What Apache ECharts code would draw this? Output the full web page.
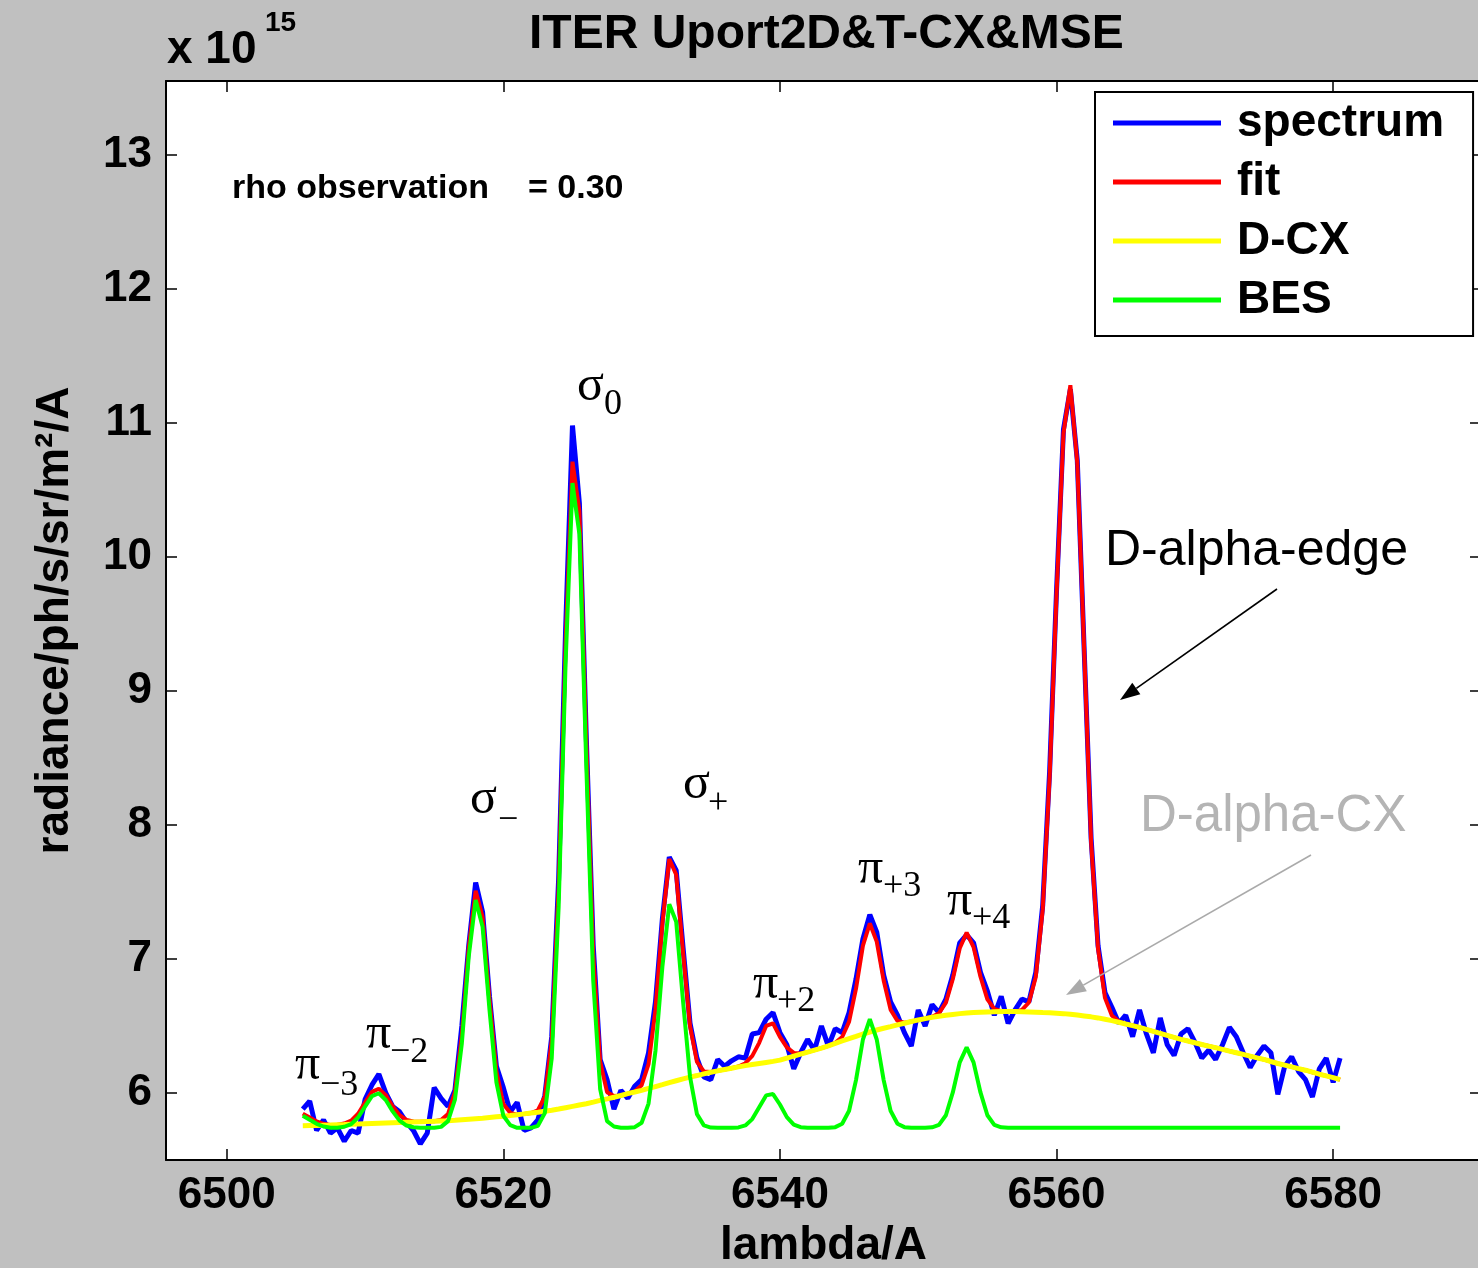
<!DOCTYPE html>
<html>
<head>
<meta charset="utf-8">
<script src="https://cdn.jsdelivr.net/npm/echarts@6/dist/echarts.min.js"></script>
<style>
html,body{margin:0;padding:0;background:#c0c0c0;}
#chart{width:1478px;height:1268px;}
</style>
</head>
<body>
<div id="chart"></div>
<script>
// wavelength grid (Å)
const lambda = [
6505.5,6506,6506.5,6507,6507.5,6508,6508.5,6509,6509.5,6510,
6510.5,6511,6511.5,6512,6512.5,6513,6513.5,6514,6514.5,6515,
6515.5,6516,6516.5,6517,6517.5,6518,6518.5,6519,6519.5,6520,
6520.5,6521,6521.5,6522,6522.5,6523,6523.5,6524,6524.5,6525,
6525.5,6526,6526.5,6527,6527.5,6528,6528.5,6529,6529.5,6530,
6530.5,6531,6531.5,6532,6532.5,6533,6533.5,6534,6534.5,6535,
6535.5,6536,6536.5,6537,6537.5,6538,6538.5,6539,6539.5,6540,
6540.5,6541,6541.5,6542,6542.5,6543,6543.5,6544,6544.5,6545,
6545.5,6546,6546.5,6547,6547.5,6548,6548.5,6549,6549.5,6550,
6550.5,6551,6551.5,6552,6552.5,6553,6553.5,6554,6554.5,6555,
6555.5,6556,6556.5,6557,6557.5,6558,6558.5,6559,6559.5,6560,
6560.5,6561,6561.5,6562,6562.5,6563,6563.5,6564,6564.5,6565,
6565.5,6566,6566.5,6567,6567.5,6568,6568.5,6569,6569.5,6570,
6570.5,6571,6571.5,6572,6572.5,6573,6573.5,6574,6574.5,6575,
6575.5,6576,6576.5,6577,6577.5,6578,6578.5,6579,6579.5,6580,
6580.5
];
// measured spectrum (x 1e15)
const spectrum = [
5.88,5.94,5.72,5.80,5.70,5.74,5.64,5.72,5.70,5.95,
6.06,6.14,6.00,5.90,5.86,5.78,5.72,5.62,5.70,6.04,
5.96,5.90,6.02,6.50,7.10,7.57,7.35,6.72,6.20,6.04,
5.86,5.93,5.72,5.74,5.80,5.98,6.42,7.60,9.45,10.98,
10.40,8.65,7.10,6.25,6.10,5.88,6.02,5.96,6.05,6.10,
6.30,6.68,7.30,7.76,7.66,7.08,6.52,6.26,6.12,6.10,
6.25,6.20,6.24,6.27,6.26,6.44,6.45,6.55,6.60,6.45,
6.36,6.18,6.30,6.40,6.32,6.50,6.35,6.48,6.45,6.60,
6.85,7.15,7.33,7.20,6.88,6.68,6.58,6.45,6.35,6.62,
6.50,6.66,6.60,6.70,6.88,7.12,7.18,7.12,6.90,6.76,
6.58,6.72,6.52,6.62,6.70,6.68,6.90,7.40,8.40,9.75,
10.95,11.25,10.72,9.30,7.90,7.10,6.75,6.64,6.52,6.58,
6.42,6.62,6.44,6.30,6.56,6.36,6.28,6.44,6.48,6.38,
6.26,6.32,6.25,6.36,6.49,6.42,6.30,6.19,6.28,6.35,
6.30,5.99,6.20,6.27,6.16,6.10,5.97,6.18,6.26,6.08,
6.26
];
// total fit
const fit = [
5.846,5.817,5.788,5.770,5.761,5.763,5.772,5.794,5.845,5.928,
6.008,6.032,5.984,5.901,5.834,5.799,5.788,5.785,5.787,5.789,
5.798,5.843,6.006,6.430,7.084,7.508,7.312,6.697,6.162,5.917,
5.852,5.838,5.844,5.850,5.871,5.973,6.391,7.530,9.350,10.710,
10.340,8.620,7.032,6.235,6.006,5.978,5.981,5.995,6.012,6.058,
6.215,6.621,7.264,7.746,7.628,7.043,6.499,6.232,6.161,6.157,
6.165,6.175,6.185,6.198,6.222,6.277,6.374,6.500,6.520,6.419,
6.340,6.299,6.295,6.305,6.320,6.335,6.352,6.375,6.418,6.532,
6.778,7.099,7.265,7.129,6.839,6.622,6.538,6.525,6.533,6.545,
6.555,6.569,6.595,6.674,6.850,7.080,7.196,7.088,6.867,6.699,
6.628,6.611,6.607,6.607,6.620,6.675,6.866,7.371,8.358,9.724,
10.921,11.280,10.700,9.300,7.872,7.077,6.710,6.578,6.535,6.515,
6.503,6.490,6.475,6.460,6.445,6.430,6.415,6.400,6.388,6.375,
6.362,6.350,6.338,6.325,6.312,6.300,6.288,6.275,6.262,6.250,
6.235,6.220,6.208,6.195,6.182,6.170,6.155,6.140,6.128,6.115,
6.100
];
// D-CX component
const dcx = [
5.756,5.757,5.758,5.760,5.761,5.763,5.764,5.766,5.768,5.770,
5.772,5.774,5.776,5.778,5.780,5.782,5.784,5.785,5.787,5.789,
5.791,5.793,5.796,5.800,5.804,5.808,5.812,5.817,5.822,5.827,
5.832,5.838,5.844,5.850,5.856,5.863,5.871,5.880,5.890,5.900,
5.910,5.920,5.932,5.945,5.956,5.968,5.981,5.995,6.007,6.020,
6.034,6.048,6.062,6.077,6.091,6.105,6.118,6.130,6.143,6.155,
6.165,6.175,6.185,6.195,6.204,6.212,6.220,6.228,6.236,6.245,
6.260,6.275,6.290,6.305,6.320,6.335,6.352,6.370,6.388,6.405,
6.422,6.440,6.455,6.470,6.483,6.495,6.508,6.520,6.533,6.545,
6.555,6.565,6.573,6.580,6.586,6.592,6.596,6.600,6.603,6.605,
6.606,6.607,6.607,6.607,6.606,6.605,6.603,6.600,6.598,6.595,
6.592,6.588,6.582,6.575,6.568,6.560,6.550,6.540,6.528,6.515,
6.503,6.490,6.475,6.460,6.445,6.430,6.415,6.400,6.388,6.375,
6.362,6.350,6.338,6.325,6.312,6.300,6.288,6.275,6.262,6.250,
6.235,6.220,6.208,6.195,6.182,6.170,6.155,6.140,6.128,6.115,
6.100
];
// BES component
const bes = [
5.83,5.80,5.77,5.75,5.74,5.74,5.748,5.768,5.817,5.898,
5.976,5.998,5.948,5.863,5.794,5.757,5.744,5.74,5.74,5.74,
5.747,5.79,5.95,6.37,7.02,7.44,7.24,6.62,6.08,5.83,
5.76,5.74,5.74,5.74,5.755,5.85,6.26,7.39,9.20,10.55,
10.17,8.44,6.84,6.03,5.79,5.75,5.74,5.74,5.745,5.778,
5.921,6.313,6.942,7.409,7.277,6.678,6.121,5.842,5.758,5.742,
5.74,5.74,5.74,5.743,5.758,5.805,5.894,5.982,5.992,5.914,
5.82,5.764,5.745,5.74,5.74,5.74,5.74,5.745,5.77,5.867,
6.096,6.399,6.55,6.399,6.096,5.867,5.77,5.745,5.74,5.74,
5.74,5.744,5.762,5.834,6.004,6.228,6.34,6.228,6.004,5.834,
5.762,5.744,5.74,5.74,5.74,5.74,5.74,5.74,5.74,5.74,
5.74,5.74,5.74,5.74,5.74,5.74,5.74,5.74,5.74,5.74,
5.74,5.74,5.74,5.74,5.74,5.74,5.74,5.74,5.74,5.74,
5.74,5.74,5.74,5.74,5.74,5.74,5.74,5.74,5.74,5.74,
5.74,5.74,5.74,5.74,5.74,5.74,5.74,5.74,5.74,5.74,
5.74
];
const seriesNames = ['spectrum','fit','D-CX','BES'];
const xTicks = [6500,6520,6540,6560,6580];
const yTicks = [6,7,8,9,10,11,12,13];

const SANS = '"Liberation Sans", Arial, sans-serif';
const SERIF = '"Liberation Serif", "Times New Roman", serif';

const chart = echarts.init(document.getElementById('chart'), null, {renderer:'canvas'});

function pairs(vals){ return lambda.map((x,i)=>[x, vals[i]]); }

const axisLineStyle = {color:'#000', width:2};
const tickStyle = {color:'#000', width:1.5};

// annotation labels: main glyph + subscript, positions by baseline (pixels)
const notes = [
  {m:'π', s:'−3', mx:295, mb:1081, sx:320, sb:1097},
  {m:'π', s:'−2', mx:366, mb:1050, sx:390, sb:1064},
  {m:'σ', s:'−',  mx:470, mb:815,  sx:498, sb:832},
  {m:'σ', s:'0',  mx:577, mb:402,  sx:604, sb:416},
  {m:'σ', s:'+',  mx:683, mb:800,  sx:708, sb:815},
  {m:'π', s:'+2', mx:753, mb:1000, sx:777, sb:1013},
  {m:'π', s:'+3', mx:858, mb:885,  sx:883, sb:898},
  {m:'π', s:'+4', mx:947, mb:917,  sx:972, sb:930}
];
const MAINS = 50, SUBS = 36;
const graphics = [];
notes.forEach(n=>{
  graphics.push({type:'text', z:100, x:n.mx, y:n.mb - 0.31*MAINS,
    style:{text:n.m, font:MAINS+'px '+SERIF, fill:'#000', align:'left', verticalAlign:'middle'}});
  graphics.push({type:'text', z:100, x:n.sx, y:n.sb - 0.31*SUBS,
    style:{text:n.s, font:SUBS+'px '+SERIF, fill:'#000', align:'left', verticalAlign:'middle'}});
});
function arrow(x1,y1,x2,y2,color){
  const dx=x2-x1, dy=y2-y1, L=Math.hypot(dx,dy), ux=dx/L, uy=dy/L;
  const hl=20, hw=7;
  const bx=x2-ux*hl, by=y2-uy*hl;
  graphics.push({type:'line', z:100, shape:{x1:x1,y1:y1,x2:bx,y2:by}, style:{stroke:color, lineWidth:1.6}});
  graphics.push({type:'polygon', z:100, shape:{points:[[x2,y2],[bx-uy*hw,by+ux*hw],[bx+uy*hw,by-ux*hw]]}, style:{fill:color}});
}
graphics.push({type:'text', z:100, x:1105, y:551,
  style:{text:'D-alpha-edge', font:'50px '+SANS, fill:'#000', align:'left', verticalAlign:'middle'}});
arrow(1277,589,1120,700,'#000');
graphics.push({type:'text', z:100, x:1140, y:817,
  style:{text:'D-alpha-CX', font:'51px '+SANS, fill:'#b4b4b4', align:'left', verticalAlign:'middle'}});
arrow(1311,855,1066,995,'#aaaaaa');
// rho observation
graphics.push({type:'text', z:100, x:232, y:189,
  style:{text:'rho observation', font:'bold 34px '+SANS, fill:'#000', align:'left', verticalAlign:'middle'}});
graphics.push({type:'text', z:100, x:528, y:189,
  style:{text:'= 0.30', font:'bold 34px '+SANS, fill:'#000', align:'left', verticalAlign:'middle'}});
// exponent label
graphics.push({type:'text', z:100, x:167, y:50,
  style:{text:'x 10', font:'bold 46px '+SANS, fill:'#000', align:'left', verticalAlign:'middle'}});
graphics.push({type:'text', z:100, x:265, y:23,
  style:{text:'15', font:'bold 28px '+SANS, fill:'#000', align:'left', verticalAlign:'middle'}});

const plainNum = v => String(v);

const option = {
  animation:false,
  backgroundColor:'#c0c0c0',
  textStyle:{fontFamily:SANS},
  title:{
    text:'ITER Uport2D&T-CX&MSE', left:524, top:6,
    textStyle:{fontSize:48, fontWeight:'bold', color:'#000', fontFamily:SANS}
  },
  legend:{
    data:seriesNames, orient:'vertical', left:1095, top:92,
    icon:'rect', itemWidth:108, itemHeight:5, itemGap:13,
    padding:[8,29,13,18],
    backgroundColor:'#fff', borderColor:'#000', borderWidth:2,
    textStyle:{fontSize:46, fontWeight:'bold', color:'#000', lineHeight:46, padding:[0,0,0,11], fontFamily:SANS},
    selectedMode:false
  },
  grid:{left:166, right:-3, top:81, bottom:108, show:true, backgroundColor:'#fff', borderWidth:0,
        containLabel:false, outerBoundsMode:'none'},
  xAxis:[{
    type:'value', position:'bottom', min:6495.61, max:6590.69,
    axisLine:{show:true, lineStyle:axisLineStyle},
    axisTick:{show:true, inside:true, length:11, lineStyle:tickStyle, customValues:xTicks},
    axisLabel:{show:true, customValues:xTicks, formatter:plainNum, fontSize:44, fontWeight:'bold', color:'#000', margin:14, fontFamily:SANS},
    splitLine:{show:false},
    name:'lambda/A', nameLocation:'middle', nameGap:62,
    nameTextStyle:{fontSize:46, fontWeight:'bold', color:'#000', fontFamily:SANS}
  },{
    type:'value', position:'top', min:6495.61, max:6590.69,
    axisLine:{show:true, lineStyle:axisLineStyle},
    axisTick:{show:true, inside:true, length:11, lineStyle:tickStyle, customValues:xTicks},
    axisLabel:{show:false}, splitLine:{show:false}
  }],
  yAxis:[{
    type:'value', position:'left', min:5.5, max:13.55,
    axisLine:{show:true, lineStyle:axisLineStyle},
    axisTick:{show:true, inside:true, length:11, lineStyle:tickStyle, customValues:yTicks},
    axisLabel:{show:true, customValues:yTicks, formatter:plainNum, fontSize:44, fontWeight:'bold', color:'#000', margin:14, fontFamily:SANS},
    splitLine:{show:false},
    name:'radiance/ph/s/sr/m²/A', nameLocation:'middle', nameGap:88, nameRotate:90,
    nameTextStyle:{fontSize:46, fontWeight:'bold', color:'#000', fontFamily:SANS}
  },{
    type:'value', position:'right', min:5.5, max:13.55,
    axisLine:{show:true, lineStyle:axisLineStyle},
    axisTick:{show:true, inside:true, length:11, lineStyle:tickStyle, customValues:yTicks},
    axisLabel:{show:false}, splitLine:{show:false}
  }],
  series:[
    {name:'spectrum', type:'line', data:pairs(spectrum), showSymbol:false, color:'#0000ff', lineStyle:{width:5, color:'#0000ff'}, z:2},
    {name:'fit', type:'line', data:pairs(fit), showSymbol:false, color:'#ff0000', lineStyle:{width:4, color:'#ff0000'}, z:3},
    {name:'D-CX', type:'line', data:pairs(dcx), showSymbol:false, color:'#ffff00', lineStyle:{width:5, color:'#ffff00'}, z:4},
    {name:'BES', type:'line', data:pairs(bes), showSymbol:false, color:'#00ff00', lineStyle:{width:4, color:'#00ff00'}, z:5}
  ],
  graphic:graphics
};
chart.setOption(option);
</script>
</body>
</html>
